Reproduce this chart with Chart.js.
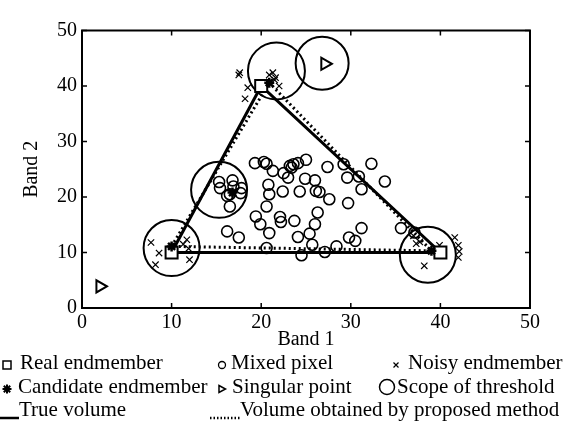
<!DOCTYPE html>
<html>
<head>
<meta charset="utf-8">
<script src="https://cdn.jsdelivr.net/npm/chart.js@4"></script>
<style>
  body { margin: 0; background: #fff; }
  #wrap { position: relative; width: 587px; height: 423px; font-family: "Liberation Serif", serif; }
  #box { position: absolute; left: 0; top: 0; width: 587px; height: 352px; }
  .item { position: absolute; font-size: 21px; line-height: 21px; color: #000; white-space: nowrap; }
  .mk { position: absolute; }
</style>
</head>
<body>
<div id="wrap">
  <div id="box"><canvas id="chart"></canvas></div>
</div>
<script>
// endmembers / vertices
const realX = [10, 20, 40];
const realY = [10, 40, 10];
const candX = [10.0, 20.9, 39.0, 16.8];
const candY = [11.1, 40.6, 10.3, 20.8];

const trueX = [10, 20, 40, 10];
const trueY = [10, 40, 10, 10];
const volX = [10.0, 20.9, 39.0, 10.0];
const volY = [11.1, 40.6, 10.3, 11.1];

const noisyX = [7.7, 8.6, 11.7, 11.9, 12.0, 8.2, 11.3,
  17.5, 17.6, 18.5, 18.2, 20.9, 21.3, 21.5, 22.0, 21.6,
  41.6, 42.0, 42.1, 42.0, 39.9, 38.2, 37.3, 37.7, 37.0];
const noisyY = [11.8, 9.9, 12.3, 10.7, 8.7, 7.8, 11.5,
  42.0, 42.4, 39.7, 37.7, 42.0, 42.4, 41.1, 40.0, 41.5,
  12.7, 11.3, 10.2, 9.1, 11.3, 7.6, 11.6, 11.9, 13.0];

const mixedX = [19.3, 20.3, 20.6, 21.3, 22.5, 23.0, 23.2, 23.6, 24.1, 23.4, 25.0, 27.4, 29.2, 32.3, 33.8,
  30.9, 29.6, 31.2, 24.9, 26.0, 20.8, 22.4, 24.3, 26.1, 26.5, 27.6, 29.7, 20.9, 20.6, 19.4,
  19.9, 20.9, 22.1, 22.2, 23.7, 26.3, 26.0, 25.4, 24.1, 25.7, 20.6, 24.5, 27.1, 28.4, 29.8,
  30.5, 31.2, 35.6, 37.1, 16.2, 17.5, 15.3, 15.4, 16.8, 16.9, 16.5, 17.7, 17.8, 16.5, 16.2];
const mixedY = [26.1, 26.3, 26.0, 24.7, 24.3, 23.5, 25.6, 25.9, 26.1, 25.3, 26.7, 25.4, 25.9, 26.0, 22.8,
  23.7, 23.5, 21.4, 23.3, 23.0, 22.2, 21.0, 21.0, 21.1, 20.9, 19.6, 18.9, 20.5, 18.3, 16.5,
  15.1, 13.5, 16.4, 15.5, 15.7, 17.2, 15.1, 13.4, 12.8, 11.4, 10.8, 9.5, 10.1, 11.1, 12.7,
  12.1, 14.4, 14.4, 13.6, 13.8, 12.7, 22.7, 21.6, 23.0, 21.9, 20.5, 20.7, 21.6, 18.3, 20.2];

const singX = [2.0, 27.1];
const singY = [3.9, 44.0];

const scopeX = [10.0, 15.3, 21.7, 26.8, 38.6];
const scopeY = [10.8, 21.3, 42.7, 44.1, 9.6];

const ticks = [0, 10, 20, 30, 40, 50];

const pts = (xs, ys) => xs.map((x, i) => ({ x: x, y: ys[i] }));

// matlab-style box with inward ticks
const frame = {
  id: 'frame',
  afterDraw(chart) {
    const { ctx, chartArea: a, scales } = chart;
    ctx.save();
    ctx.strokeStyle = '#000';
    ctx.lineWidth = 2;
    ctx.strokeRect(a.left, a.top, a.right - a.left, a.bottom - a.top);
    ctx.lineWidth = 1.5;
    ctx.beginPath();
    ticks.forEach(t => {
      const px = scales.x.getPixelForValue(t);
      const py = scales.y.getPixelForValue(t);
      ctx.moveTo(px, a.bottom); ctx.lineTo(px, a.bottom - 5);
      ctx.moveTo(px, a.top); ctx.lineTo(px, a.top + 5);
      ctx.moveTo(a.left, py); ctx.lineTo(a.left + 5, py);
      ctx.moveTo(a.right, py); ctx.lineTo(a.right - 5, py);
    });
    ctx.stroke();
    ctx.restore();
  }
};

const font = { family: 'Liberation Serif', size: 20 };

new Chart(document.getElementById('chart'), {
  type: 'scatter',
  data: {
    datasets: [
      { label: 'Real endmember', data: pts(realX, realY), pointStyle: 'rect', pointRadius: 8.5,
        borderColor: '#000', backgroundColor: '#fff', borderWidth: 2, order: 1 },
      { label: 'Candidate endmember', data: pts(candX, candY), pointStyle: 'star', pointRadius: 5,
        borderColor: '#000', borderWidth: 2.5, order: 0 },
      { label: 'Mixed pixel', data: pts(mixedX, mixedY), pointStyle: 'circle', pointRadius: 5.5,
        borderColor: '#000', backgroundColor: 'rgba(0,0,0,0)', borderWidth: 1.6, order: 4 },
      { label: 'Noisy endmember', data: pts(noisyX, noisyY), pointStyle: 'crossRot', pointRadius: 4.5,
        borderColor: '#000', borderWidth: 1.2, order: 3 },
      { label: 'Singular point', data: pts(singX, singY), pointStyle: 'triangle', rotation: 90, pointRadius: 7,
        borderColor: '#000', backgroundColor: '#fff', borderWidth: 2, order: 2 },
      { label: 'Scope of threshold', data: pts(scopeX, scopeY), pointStyle: 'circle', pointRadius: [28, 28, 28.5, 26.5, 28],
        borderColor: '#000', backgroundColor: 'rgba(0,0,0,0)', borderWidth: 2, order: 5 },
      { label: 'True volume', data: pts(trueX, trueY), showLine: true, pointRadius: 0,
        borderColor: '#000', borderWidth: 3, order: 6 },
      { label: 'Volume obtained by proposed method', data: pts(volX, volY), showLine: true, pointRadius: 0,
        borderColor: '#000', borderWidth: 3, borderDash: [2, 3], order: 7 }
    ]
  },
  options: {
    responsive: true,
    maintainAspectRatio: false,
    animation: false,
    layout: { padding: { left: 18, right: 57, top: 15, bottom: 0 } },
    plugins: { legend: { display: false }, tooltip: { enabled: false } },
    scales: {
      x: {
        type: 'linear', min: 0, max: 50,
        afterFit: s => { s.height = 44; },
        afterBuildTicks: s => { s.ticks = ticks.map(v => ({ value: v })); },
        grid: { display: false, drawTicks: false },
        border: { display: false },
        ticks: { color: '#000', font: font, padding: 3, maxRotation: 0 },
        title: { display: true, text: 'Band 1', color: '#000', font: font, padding: 0 }
      },
      y: {
        type: 'linear', min: 0, max: 50,
        afterFit: s => { s.width = 64; },
        afterBuildTicks: s => { s.ticks = ticks.map(v => ({ value: v })); },
        grid: { display: false, drawTicks: false },
        border: { display: false },
        ticks: { color: '#000', font: font, padding: 5 },
        title: { display: true, text: 'Band 2', color: '#000', font: font, padding: 2 }
      }
    }
  },
  plugins: [frame]
});

// legend below the axes
const legendItems = [
  { text: 'Real endmember', left: 20, top: 352, mk: '<svg width="12" height="12"><rect x="2" y="2" width="8" height="8" fill="#fff" stroke="#000" stroke-width="1.5"/></svg>', mx: 1, my: 357 },
  { text: 'Mixed pixel', left: 231, top: 352, mk: '<svg width="12" height="12"><circle cx="6" cy="6" r="3.5" fill="none" stroke="#000" stroke-width="1.3"/></svg>', mx: 216, my: 357 },
  { text: 'Noisy endmember', left: 408, top: 352, mk: '<svg width="12" height="12"><path d="M3.5 3.5L8.5 8.5M8.5 3.5L3.5 8.5" stroke="#000" stroke-width="1.2"/></svg>', mx: 390, my: 357 },
  { text: 'Candidate endmember', left: 18, top: 376, mk: '<svg width="12" height="12"><path d="M6 1.5V10.5M1.5 6H10.5M2.8 2.8L9.2 9.2M9.2 2.8L2.8 9.2" stroke="#000" stroke-width="2"/></svg>', mx: 1, my: 381 },
  { text: 'Singular point', left: 232, top: 376, mk: '<svg width="12" height="12"><path d="M3 2.5L9.5 6L3 9.5Z" fill="#fff" stroke="#000" stroke-width="1.5"/></svg>', mx: 216, my: 381 },
  { text: 'Scope of threshold', left: 397, top: 376, mk: '<svg width="18" height="18"><circle cx="9" cy="9" r="7.5" fill="none" stroke="#000" stroke-width="1.5"/></svg>', mx: 378, my: 378 },
  { text: 'True volume', left: 19, top: 399, mk: '<svg width="19" height="6"><path d="M0 3H19" stroke="#000" stroke-width="2.5"/></svg>', mx: 0, my: 407 },
  { text: 'Volume obtained by proposed method', left: 240, top: 399, mk: '<svg width="30" height="6"><path d="M0 3H30" stroke="#000" stroke-width="2.5" stroke-dasharray="1.5 2"/></svg>', mx: 210, my: 407 }
];
const wrap = document.getElementById('wrap');
legendItems.forEach(it => {
  const m = document.createElement('div');
  m.className = 'mk';
  m.style.left = it.mx + 'px';
  m.style.top = it.my + 'px';
  m.innerHTML = it.mk;
  wrap.appendChild(m);
  const t = document.createElement('div');
  t.className = 'item';
  t.style.left = it.left + 'px';
  t.style.top = it.top + 'px';
  t.textContent = it.text;
  wrap.appendChild(t);
});
</script>
</body>
</html>
